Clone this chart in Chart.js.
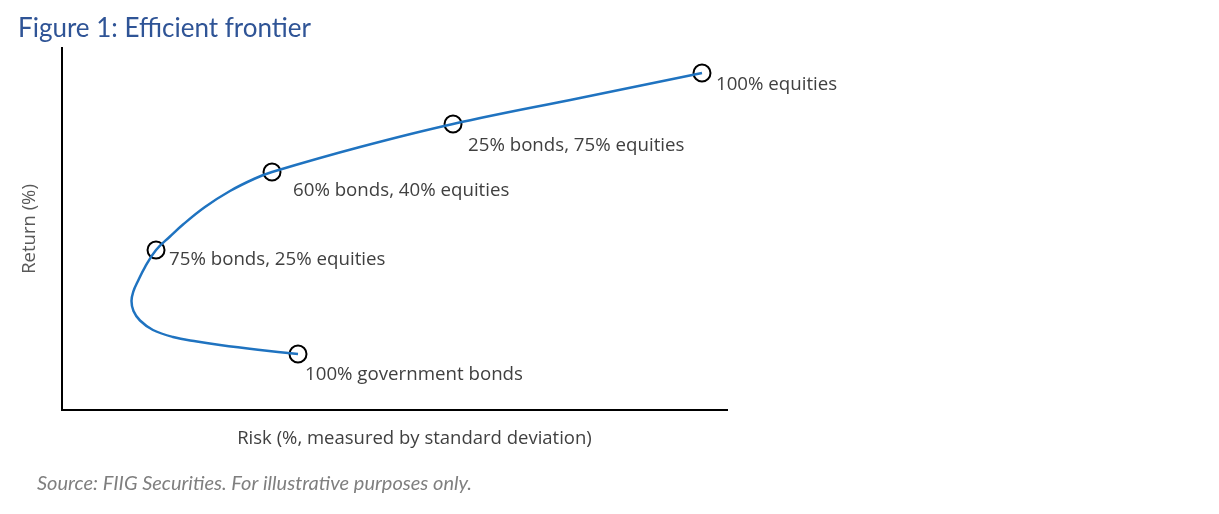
<!DOCTYPE html>
<html>
<head>
<meta charset="utf-8">
<script src="https://cdn.jsdelivr.net/npm/chart.js@4.4.1/dist/chart.umd.min.js"></script>
<style>
    body { margin: 0; background: #fff; }
    #wrap { width: 1219px; height: 514px; }
</style>
</head>
<body>
<div id="wrap"><canvas id="frontier" width="1219" height="514"></canvas></div>
<script>

// points (risk %, return %)
const curveRisk = [35.49, 29.47, 23.76, 20.30, 16.69, 13.68, 11.73, 10.75, 10.45, 10.75, 11.35, 12.48,
    14.14, 16.24, 18.20, 21.50, 25.26, 29.02, 31.58, 44.81, 58.80, 77.89, 96.24]
const curveReturn = [15.47, 16.66, 17.96, 18.92, 20.17, 22.10, 24.72, 27.35, 30.11, 32.87, 35.36, 39.50,
    44.20, 47.93, 51.24, 56.08, 60.50, 63.95, 65.75, 72.65, 79.01, 86.19, 93.09]

// portfolio markers
const portfolioRisk = [35.49, 14.14, 31.58, 58.80, 96.24]
const portfolioReturn = [15.47, 44.20, 65.75, 79.01, 93.09]
const portfolioLabels = [
    '100% government bonds',
    '75% bonds, 25% equities',
    '60% bonds, 40% equities',
    '25% bonds, 75% equities',
    '100% equities'
]

// where each label sits relative to its marker, in px
const labelOffsets = [[7, 21], [13, 10], [21, 19], [15, 22], [14, 12]]

const textGrey = '#404040'

let curvePoints = curveRisk.map(function(r, i){ return {x: r, y: curveReturn[i]} })
let portfolioPoints = portfolioRisk.map(function(r, i){ return {x: r, y: portfolioReturn[i]} })

var extraText = {
    id: 'extraText',
    afterDraw: function(chart){
        let ctx = chart.ctx
        let xs = chart.scales.x
        let ys = chart.scales.y
        let area = chart.chartArea

        ctx.save()
        ctx.textBaseline = 'middle'
        ctx.textAlign = 'left'
        ctx.fillStyle = textGrey
        ctx.font = '18.7px "Open Sans"'
        for (var i in portfolioLabels){
            let px = xs.getPixelForValue(portfolioRisk[i])
            let py = ys.getPixelForValue(portfolioReturn[i])
            ctx.fillText(portfolioLabels[i], px + labelOffsets[i][0], py + labelOffsets[i][1])
        }

        ctx.textAlign = 'center'
        ctx.font = '18.5px "Open Sans"'
        ctx.fillText('Risk (%, measured by standard deviation)', (area.left + area.right) / 2 + 20, area.bottom + 29)

        ctx.textAlign = 'left'
        ctx.fillStyle = '#7f7f7f'
        ctx.font = 'italic 20px Lato'
        ctx.fillText('Source: FIIG Securities. For illustrative purposes only.', 37, area.bottom + 74)
        ctx.restore()
    }
}

var ctx = document.getElementById('frontier').getContext('2d')
var chart = new Chart(ctx, {
    type: 'scatter',
    data: {
        datasets: [{
            data: curvePoints,
            showLine: true,
            tension: 0.4,
            borderColor: '#1f73c0',
            borderWidth: 2.5,
            pointRadius: 0,
            order: 0
        }, {
            data: portfolioPoints,
            showLine: false,
            pointRadius: 8.5,
            pointBorderWidth: 2,
            pointBorderColor: '#000',
            pointBackgroundColor: 'rgba(0,0,0,0)',
            order: 1
        }]
    },
    options: {
        responsive: false,
        animation: false,
        layout: {
            padding: {left: 18, right: 492, top: 0, bottom: 104}
        },
        plugins: {
            legend: {display: false},
            tooltip: {enabled: false},
            title: {
                display: true,
                text: 'Figure 1: Efficient frontier',
                align: 'start',
                color: '#2f5496',
                font: {family: 'Lato', size: 26, weight: 'normal', lineHeight: 1.2},
                padding: {top: 13, bottom: 3.8}
            }
        },
        scales: {
            x: {
                type: 'linear',
                min: 0,
                max: 100,
                grid: {display: false, drawTicks: false},
                ticks: {display: false},
                border: {color: '#000', width: 2}
            },
            y: {
                type: 'linear',
                min: 0,
                max: 100,
                grid: {display: false, drawTicks: false},
                ticks: {display: false},
                border: {color: '#000', width: 2},
                title: {
                    display: true,
                    text: 'Return (%)',
                    color: '#595959',
                    font: {family: 'Open Sans', size: 18.5, lineHeight: 1.2},
                    padding: {top: 1, bottom: 20.8}
                }
            }
        }
    },
    plugins: [extraText]
})

</script>
</body>
</html>
